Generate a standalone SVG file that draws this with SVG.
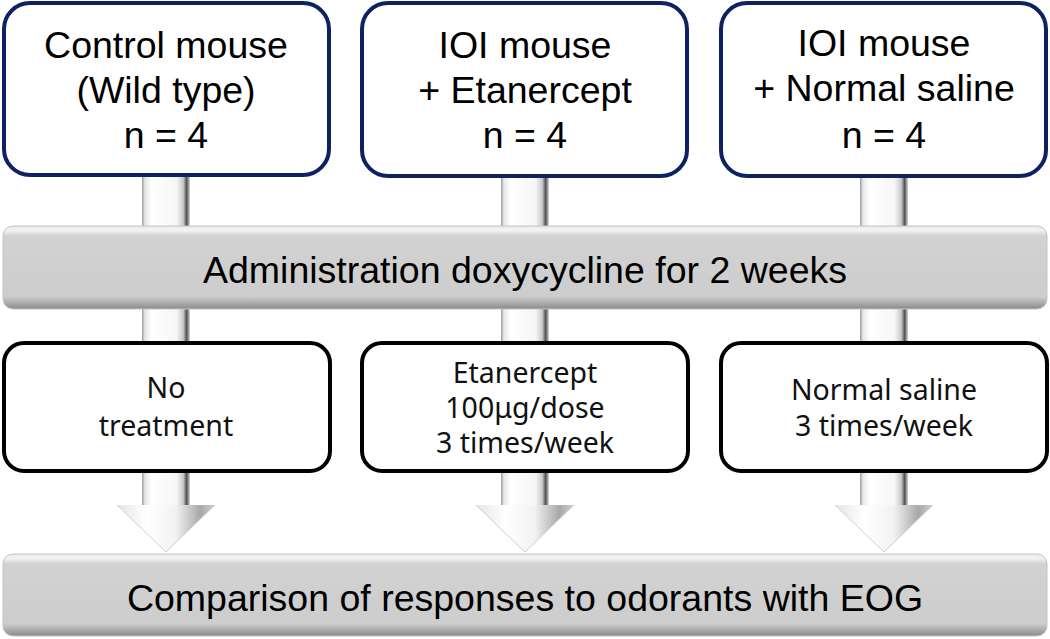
<svg xmlns="http://www.w3.org/2000/svg" width="1050" height="639" viewBox="0 0 1050 639">
<defs>
<linearGradient id="shaft" x1="0" y1="0" x2="1" y2="0">
<stop offset="0" stop-color="#9a9a9a"/>
<stop offset="0.06" stop-color="#e6e6e6"/>
<stop offset="0.2" stop-color="#ffffff"/>
<stop offset="0.72" stop-color="#f6f6f6"/>
<stop offset="0.86" stop-color="#c8c8c8"/>
<stop offset="0.93" stop-color="#505050"/>
<stop offset="1" stop-color="#d8d8d8"/>
</linearGradient>
<linearGradient id="head" x1="0" y1="0" x2="1" y2="0">
<stop offset="0" stop-color="#e4e4e4"/>
<stop offset="0.3" stop-color="#ffffff"/>
<stop offset="0.6" stop-color="#f2f2f2"/>
<stop offset="0.85" stop-color="#a8a8a8"/>
<stop offset="1" stop-color="#d0d0d0"/>
</linearGradient>
<linearGradient id="bar" x1="0" y1="0" x2="0" y2="1">
<stop offset="0" stop-color="#e8e8e8"/>
<stop offset="0.05" stop-color="#f4f4f4"/>
<stop offset="0.12" stop-color="#d2d2d2"/>
<stop offset="0.85" stop-color="#cdcdcd"/>
<stop offset="0.94" stop-color="#a6a6a6"/>
<stop offset="1" stop-color="#8a8a8a"/>
</linearGradient>
<g id="arrow">
<rect x="-24" y="175" width="48" height="332" fill="url(#shaft)"/>
<polygon points="-49,505 49,505 0,552" fill="url(#head)"/>
<polyline points="-49,505 0,552 49,505" fill="none" stroke="#cfcfcf" stroke-width="1"/>
</g>
</defs>
<style>
.top{fill:#fff;stroke:#0c2262;stroke-width:4}
.mid{fill:#fff;stroke:#000;stroke-width:4}
.bar{fill:url(#bar);stroke:#c4c4c4;stroke-width:1}
.t1{font-family:"Liberation Sans",Arial,sans-serif;font-size:37.5px;fill:#000;text-anchor:middle}
.t2{font-family:"Noto Sans","Open Sans",sans-serif;font-size:28.5px;fill:#111;text-anchor:middle}
</style>
<g id="connectors">
<use href="#arrow" x="166"/>
<use href="#arrow" x="525"/>
<use href="#arrow" x="884"/>
</g>
<g id="top1"><rect class="top" x="4" y="3" width="325" height="172" rx="26"/>
<text class="t1" x="166" y="58">Control mouse</text><text class="t1" x="166" y="103">(Wild type)</text><text class="t1" x="166" y="148">n = 4</text></g>
<g id="top2"><rect class="top" x="362" y="3" width="325" height="173" rx="26"/>
<text class="t1" x="525" y="58">IOI mouse</text><text class="t1" x="525" y="103">+ Etanercept</text><text class="t1" x="525" y="148">n = 4</text></g>
<g id="top3"><rect class="top" x="721" y="3" width="325" height="173" rx="26"/>
<text class="t1" x="884" y="56">IOI mouse</text><text class="t1" x="884" y="101">+ Normal saline</text><text class="t1" x="884" y="148">n = 4</text></g>
<g id="bar1"><rect class="bar" x="3" y="226" width="1044" height="83" rx="10"/>
<text class="t1" x="525" y="283">Administration doxycycline for 2 weeks</text></g>
<g id="mid1"><rect class="mid" x="4" y="343" width="326" height="128" rx="20"/>
<text class="t2" x="166" y="398">No</text><text class="t2" x="166" y="436">treatment</text></g>
<g id="mid2"><rect class="mid" x="362" y="343" width="326" height="128" rx="20"/>
<text class="t2" x="525" y="383">Etanercept</text><text class="t2" x="525" y="418">100μg/dose</text><text class="t2" x="525" y="453">3 times/week</text></g>
<g id="mid3"><rect class="mid" x="721" y="343" width="326" height="128" rx="20"/>
<text class="t2" x="884" y="400">Normal saline</text><text class="t2" x="884" y="436">3 times/week</text></g>
<g id="bar2"><rect class="bar" x="3" y="554" width="1044" height="82" rx="10"/>
<text class="t1" x="525" y="611">Comparison of responses to odorants with EOG</text></g>
</svg>
